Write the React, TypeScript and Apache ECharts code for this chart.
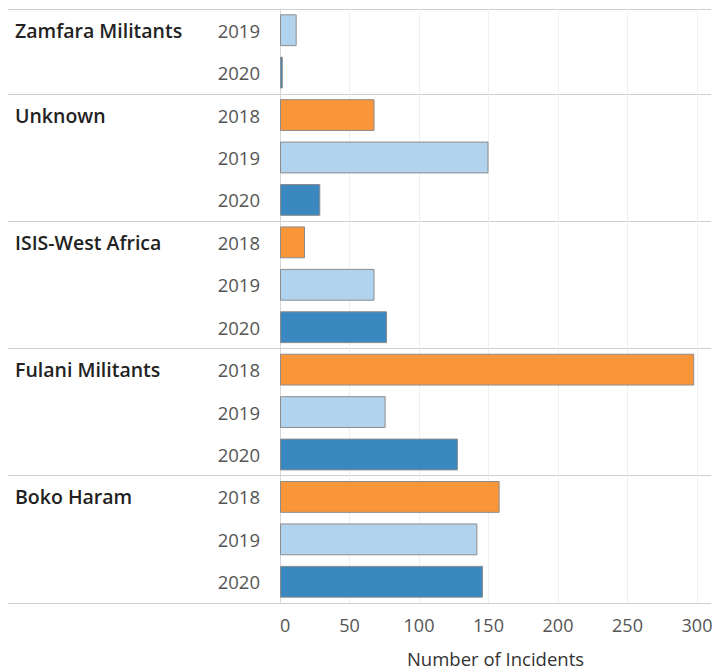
import React, { useEffect, useRef } from "react";
import * as echarts from "echarts";

const groups = ["Zamfara Militants", "Unknown", "ISIS-West Africa", "Fulani Militants", "Boko Haram"];
const groupYears = [
  ["2019", "2020"],
  ["2018", "2019", "2020"],
  ["2018", "2019", "2020"],
  ["2018", "2019", "2020"],
  ["2018", "2019", "2020"],
];
const groupValues = [
  [12, 2],
  [68, 150, 29],
  [18, 68, 77],
  [298, 76, 128],
  [158, 142, 146],
];
const xTicks = [0, 50, 100, 150, 200, 250, 300];
const yearColors: Record<string, string> = {
  "2018": "#F9963A",
  "2019": "#B2D3EE",
  "2020": "#3A88BF",
};
const FONT = "'Open Sans', 'Noto Sans', sans-serif";

export default function App() {
  const ref = useRef<HTMLDivElement>(null);
  useEffect(() => {
    if (!ref.current) return;
    const chart = echarts.init(ref.current, undefined, { renderer: "svg" });

    const cats: string[] = [];
    const groupFirst = new Set<number>();
    const groupStarts: number[] = [];
    const data: any[] = [];
    groups.forEach((g, gi) => {
      groupStarts.push(cats.length);
      groupFirst.add(cats.length);
      groupYears[gi].forEach((y, yi) => {
        cats.push(g + "|" + y);
        data.push({
          value: groupValues[gi][yi],
          itemStyle: { color: yearColors[y], borderColor: "#8c8c8c", borderWidth: 1 },
        });
      });
    });

    chart.setOption({
      animation: false,
      grid: [
        { left: 280, right: 16, top: 9, bottom: 68, outerBoundsMode: "none", containLabel: false },
        { left: 8, right: 2, top: 9, bottom: 68, outerBoundsMode: "none", containLabel: false },
      ],
      xAxis: [
        {
          gridIndex: 0,
          type: "value",
          min: xTicks[0],
          max: xTicks[xTicks.length - 1],
          interval: 50,
          axisLine: { show: false },
          axisTick: { show: false },
          splitLine: { show: true, lineStyle: { color: "#efefef", width: 1 } },
          axisLabel: {
            color: "#555",
            fontSize: 18,
            fontFamily: FONT,
            margin: 13,
            alignMinLabel: "left",
          },
          name: "Number of Incidents",
          nameLocation: "middle",
          nameGap: 46,
          nameTextStyle: {
            color: "#333",
            fontSize: 18.5,
            lineHeight: 18,
            fontFamily: FONT,
            padding: [0, 0, 0, 14],
          },
        },
        {
          gridIndex: 1,
          type: "value",
          show: false,
        },
      ],
      yAxis: [
        {
          gridIndex: 0,
          type: "category",
          data: cats,
          inverse: true,
          axisLine: { show: true, lineStyle: { color: "#d6d6d6" } },
          axisTick: { show: false },
          splitLine: { show: false },
          axisLabel: {
            color: "#555",
            fontSize: 18.5,
            fontFamily: FONT,
            margin: 20,
            formatter: (v: string) => v.split("|")[1],
          },
        },
        {
          gridIndex: 1,
          type: "category",
          data: cats,
          inverse: true,
          axisLine: { show: false },
          axisTick: { show: false },
          splitLine: {
            show: true,
            interval: (index: number) => groupStarts.indexOf(index) >= 0,
            lineStyle: { color: "#cfcfcf", width: 1 },
          },
          axisLabel: {
            inside: true,
            margin: 7,
            color: "#222",
            fontSize: 19.5,
            fontWeight: 600,
            fontFamily: FONT,
            interval: 0,
            formatter: (v: string, i: number) => (groupFirst.has(i) ? v.split("|")[0] : ""),
          },
        },
      ],
      series: [
        {
          type: "bar",
          xAxisIndex: 0,
          yAxisIndex: 0,
          data,
          barWidth: "75%",
          z: 3,
        },
      ],
    });
    return () => chart.dispose();
  }, []);
  return <div ref={ref} style={{ width: 713, height: 671, position: "absolute", left: 0, top: 0 }} />;
}
